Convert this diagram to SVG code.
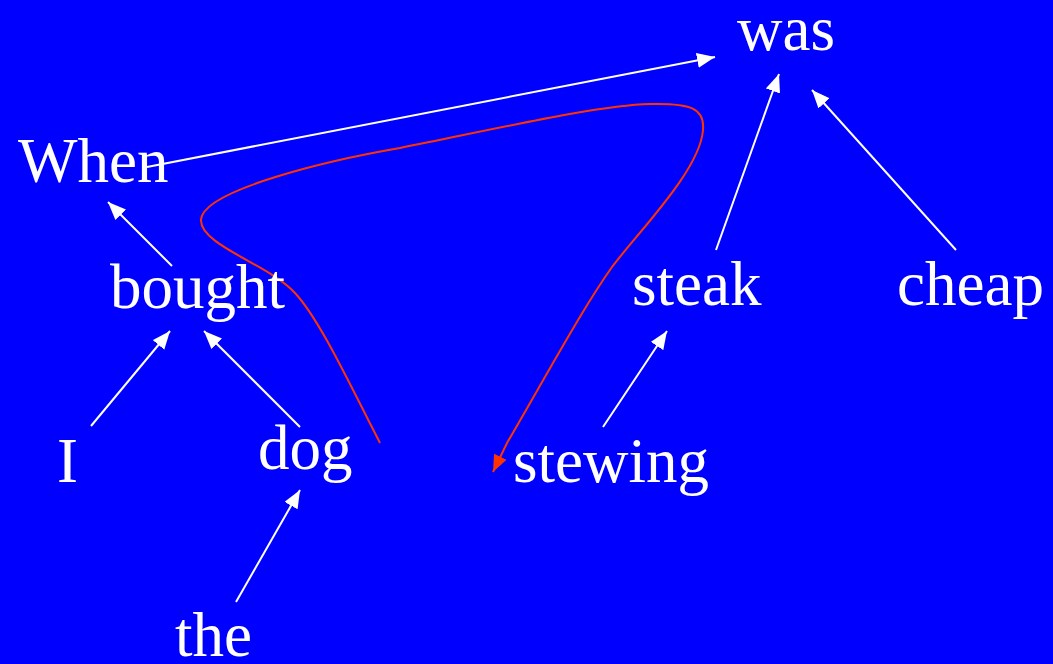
<svg xmlns="http://www.w3.org/2000/svg" width="1053" height="664" viewBox="0 0 1053 664">
<style>
.w{font-family:"Liberation Serif","Times New Roman",serif;font-size:63px;fill:#fff}
.e{stroke:#fff;stroke-width:2;fill:none}
.r{stroke:#ff3300;stroke-width:2;fill:none}
</style>
<defs>
<marker id="aw" markerUnits="userSpaceOnUse" markerWidth="20" markerHeight="16" refX="18" refY="7.5" orient="auto"><path d="M0,0 L18,7.5 L0,15 z" fill="#fff"/></marker>
<marker id="ar" markerUnits="userSpaceOnUse" markerWidth="20" markerHeight="16" refX="17" refY="7" orient="auto"><path d="M0,0 L17,7 L0,14 z" fill="#ff3300"/></marker>
</defs>
<rect width="1053" height="664" fill="#0000ff"/>
<g id="connectors">
<line class="e" x1="147" y1="167" x2="715" y2="57" marker-end="url(#aw)"/>
<line class="e" x1="172" y1="266" x2="108" y2="202" marker-end="url(#aw)"/>
<line class="e" x1="716" y1="250" x2="779" y2="74" marker-end="url(#aw)"/>
<line class="e" x1="956" y1="250" x2="812" y2="90" marker-end="url(#aw)"/>
<line class="e" x1="91" y1="426" x2="170" y2="331" marker-end="url(#aw)"/>
<line class="e" x1="300" y1="427" x2="204" y2="331" marker-end="url(#aw)"/>
<line class="e" x1="236" y1="602" x2="300" y2="490" marker-end="url(#aw)"/>
<line class="e" x1="603" y1="427" x2="667" y2="331" marker-end="url(#aw)"/>
<path class="r" d="M380,443 C350,385 320,320 295,293 C270,265 200,245 201,220 C202,190 330,160 400,148 C500,128 600,105 650,104 C690,103 705,108 703,130 C700,170 640,230 612,267 C585,305 555,360 507,443 L493,472" marker-end="url(#ar)"/>
</g>
<g id="n-was"><text class="w" x="737" y="50">was</text></g>
<g id="n-when"><text class="w" x="18" y="182">When</text></g>
<g id="n-bought"><text class="w" x="110" y="308">bought</text></g>
<g id="n-steak"><text class="w" x="632" y="305">steak</text></g>
<g id="n-cheap"><text class="w" x="897" y="305">cheap</text></g>
<g id="n-i"><text class="w" x="57" y="482">I</text></g>
<g id="n-dog"><text class="w" x="258" y="469">dog</text></g>
<g id="n-stewing"><text class="w" x="513" y="482">stewing</text></g>
<g id="n-the"><text class="w" x="175" y="656">the</text></g>
</svg>
